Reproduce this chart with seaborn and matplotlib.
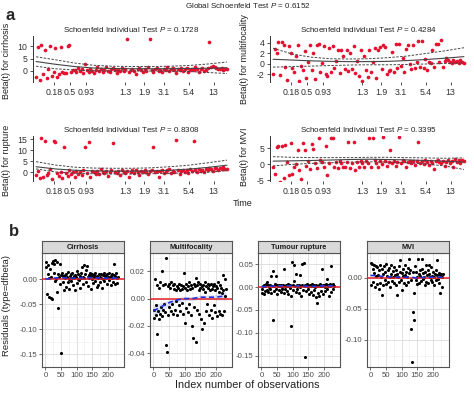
import numpy as np
import pandas as pd
import seaborn as sns
import matplotlib
matplotlib.use("Agg")
import matplotlib.pyplot as plt

sns.set_style("white")
plt.rcParams['font.family'] = ['Liberation Sans', 'DejaVu Sans']
plt.rcParams['mathtext.fontset'] = 'custom'
plt.rcParams['mathtext.it'] = 'Liberation Sans:italic'
plt.rcParams['mathtext.rm'] = 'Liberation Sans'

W, H = 474, 395

# ---------------- panel a : Schoenfeld residuals ----------------
# x axis = event order (fraction), labelled with the transformed time
time_ticks = [0.093, 0.177, 0.263, 0.466, 0.566, 0.67, 0.80, 0.93]
time_labels = ['0.18', '0.5', '0.93', '1.3', '1.9', '3.1', '5.4', '13']

beta_cirrhosis = [
    -2.5, 9.5, -3.5, 10.5, -1.0, 8.5, -2.8, 0.8, 10.0, -2.0,
    -0.5, 9.3, -2.3, -1.0, 9.6, -0.3, -0.8, -0.6, 10.2, 10.6,
    -0.2, 0.5, 0.3, -0.5, 1.2, 0.0, 0.8, -0.6, 2.8, 0.4,
    -0.2, 1.0, 0.2, -0.8, 0.6, 1.5, 0.0, 0.9, -0.4, 0.5,
    1.8, 0.1, -0.3, 0.7, 1.1, 0.3, -0.7, 0.6, 0.2, 1.4,
    0.0, 0.8, 12.7, -0.4, 0.5, 1.0, 0.2, -1.0, 0.7, 1.3,
    0.4, -0.2, 0.9, 0.1, 1.6, 12.8, 0.3, -0.5, 0.8, 1.2,
    0.2, 0.6, -0.3, 1.0, 0.4, 1.7, 0.0, 0.7, 1.1, 0.3,
    -0.6, 0.9, 0.5, 1.4, 0.1, 0.8, 1.2, -0.2, 0.6, 1.0,
    0.3, 1.5, 0.7, -0.4, 0.9, 1.3, 0.2, 0.6, 1.1, 11.7,
    1.6, 2.1, 1.8, 1.4, 1.0, 0.7, 1.3, 0.5, 1.0, 0.8]
beta_multifocality = [
    -2.0, 2.8, 2.0, 4.2, -2.1, 4.1, 3.6, -0.5, -3.0, 3.5,
    2.1, -0.8, -1.5, 1.5, 3.6, -3.2, -0.3, -1.2, 2.5, -2.6,
    0.3, 3.6, -1.2, 2.0, -2.8, 3.7, 3.9, -1.5, 0.2, 3.5,
    -2.0, -2.2, 3.0, -1.5, 3.5, -0.8, 0.5, 2.6, -1.8, 2.6,
    1.6, -1.0, 2.6, -1.4, 2.0, -0.9, 3.5, -1.7, 0.5, -2.2,
    2.7, -3.2, 1.5, -1.2, -2.4, 2.7, -1.5, 0.3, 3.0, -2.6,
    2.6, 3.2, -1.0, 3.6, 3.3, -2.0, -1.3, -1.2, 2.2, -1.5,
    3.8, -0.8, 3.8, -0.4, 1.2, -1.6, 2.8, 3.6, 0.0, -1.0,
    3.6, -0.7, 0.4, 4.4, -0.5, 4.3, -0.7, 0.9, -1.2, 0.3,
    0.1, 2.7, -0.6, 3.8, 3.9, 0.3, 4.5, -0.6, 0.5, 1.2,
    0.8, 0.4, 0.2, 0.7, 0.3, 0.5, 0.1, 0.8, 0.3, 0.2]
beta_rupture = [
    -1.5, 0.5, -2.8, 15.3, -2.5, 14.2, -1.2, -0.5, 1.5, -3.0,
    14.1, 13.8, -0.6, -1.8, 0.2, -2.6, 11.5, -0.3, -2.0, 0.8,
    -1.0, -0.2, -2.2, 0.4, -0.8, 0.0, -1.5, 1.0, 11.5, -0.4,
    13.8, -2.4, 0.6, -0.1, -1.0, 0.3, -0.7, 1.2, 0.0, -0.5,
    0.5, -2.0, -0.2, 0.8, 13.3, 0.1, -0.6, 0.4, -1.2, 0.9,
    0.2, -0.4, 0.6, -2.5, 0.0, 0.7, -0.3, 1.0, 0.2, -1.5,
    0.5, -0.2, 0.8, 0.1, -0.8, 0.4, 1.1, 11.2, -0.1, 0.6,
    -2.3, 0.3, 0.9, -0.5, 0.2, 0.7, 1.2, -0.3, 0.5, 0.0,
    14.5, 0.8, -1.0, 0.4, 1.0, 0.2, 0.7, -0.4, 1.3, 0.5,
    14.1, 0.9, 0.1, 1.5, 0.6, 1.1, -0.2, 1.4, 0.8, 1.8,
    1.2, 0.5, 1.6, 2.0, 1.0, 1.7, 1.3, 2.1, 1.5, 1.2]
beta_mvi = [
    -0.8, -3.0, 5.4, 5.5, -5.5, 5.6, -4.5, 5.9, 0.5, -3.5,
    6.5, -3.2, -1.0, 0.0, 4.5, -2.0, -4.8, 6.6, 4.4, -0.5,
    1.0, -1.5, 6.3, 4.8, 0.3, -1.2, 8.0, 1.2, 0.5, -1.0,
    5.5, -3.5, 0.3, 8.0, 8.0, -1.0, 0.5, -1.2, 1.1, 0.4,
    -0.8, -1.0, 0.6, 6.8, -1.2, 0.2, 6.8, -2.0, 0.5, -0.8,
    1.0, 0.2, -1.0, 0.8, 0.3, 8.2, -0.9, 8.2, 1.2, 0.4,
    -1.0, 0.8, 0.1, 8.3, 1.0, -0.7, 0.6, 4.5, 0.2, 1.1,
    -0.5, 0.7, 8.3, 0.3, 1.2, 0.9, -0.8, 0.5, 1.0, 0.2,
    0.8, -0.3, 1.1, 7.0, 0.4, 0.9, 0.1, 1.3, 0.6, -0.4,
    1.0, 0.3, -1.6, 0.8, 1.2, 0.5, 0.2, 1.0, -0.6, 0.7,
    1.3, 0.4, 0.9, -1.0, 1.5, 0.6, 1.2, 0.3, 1.4, 1.0]

# fitted beta(t) with confidence band, read at eleven positions
fit_pos = [0.0, 0.1, 0.2, 0.3, 0.4, 0.5, 0.6, 0.7, 0.8, 0.9, 1.0]
cirr_fit = [3.8, 2.7, 1.8, 1.2, 1.0, 0.9, 0.9, 0.9, 1.0, 1.1, 1.3]
cirr_up = [5.7, 4.5, 3.2, 2.3, 1.9, 1.8, 1.8, 1.9, 2.2, 2.8, 3.6]
cirr_lo = [1.9, 0.9, 0.4, 0.1, 0.0, 0.0, 0.0, -0.1, -0.2, -0.6, -1.0]
multi_fit = [0.9, 0.75, 0.6, 0.5, 0.45, 0.45, 0.5, 0.65, 0.85, 1.1, 1.4]
multi_up = [3.0, 1.9, 1.3, 1.0, 0.95, 1.0, 1.2, 1.5, 2.0, 2.5, 3.1]
multi_lo = [-0.6, -0.5, -0.4, -0.3, -0.2, -0.15, -0.15, -0.1, 0.0, 0.1, 0.2]
rupt_fit = [2.4, 1.4, 0.8, 0.5, 0.4, 0.4, 0.5, 0.8, 1.3, 2.1, 3.1]
rupt_up = [4.7, 3.2, 2.2, 1.8, 1.7, 1.7, 1.9, 2.4, 3.1, 4.2, 5.4]
rupt_lo = [1.4, 0.0, -0.5, -0.8, -0.9, -0.9, -0.8, -0.6, -0.4, -0.1, 0.6]
mvi_fit = [0.9, 1.0, 1.1, 1.25, 1.4, 1.5, 1.4, 1.3, 1.1, 0.9, 0.6]
mvi_up = [2.3, 2.1, 2.0, 2.0, 2.0, 2.1, 2.1, 2.0, 1.9, 1.8, 1.9]
mvi_lo = [-0.6, -0.1, 0.2, 0.4, 0.6, 0.7, 0.6, 0.4, 0.0, -0.6, -1.7]

# ---------------- panel b : dfbeta residuals ----------------
dfb_cirrhosis = [
    0.035, 0.025, -0.030, 0.010, 0.028, -0.035, 0.002, 0.020, -0.038, 0.005,
    0.033, -0.040, 0.036, 0.012, 0.030, -0.004, 0.038, 0.000, -0.025, 0.034,
    -0.057, 0.010, 0.004, -0.010, 0.031, 0.008, -0.148, 0.012, -0.005, 0.006,
    -0.022, 0.002, 0.008, -0.015, 0.011, 0.004, -0.006, 0.015, 0.001, -0.020,
    0.006, 0.010, -0.004, 0.003, 0.012, -0.012, 0.007, 0.002, -0.021, 0.009,
    0.004, 0.016, -0.008, 0.001, 0.010, -0.002, 0.006, -0.018, 0.012, 0.003,
    0.024, 0.005, -0.010, 0.028, 0.002, 0.011, -0.005, 0.019, 0.026, 0.004,
    -0.014, 0.008, 0.003, 0.012, -0.020, 0.006, 0.000, 0.010, -0.008, 0.004,
    0.009, -0.003, 0.013, 0.005, -0.016, 0.007, 0.002, -0.011, 0.010, 0.004,
    -0.006, 0.011, 0.003, -0.018, 0.008, 0.001, 0.012, -0.004, 0.006, 0.009,
    0.002, -0.009, 0.010, 0.005, -0.002, 0.013, 0.004, -0.012, 0.007, 0.011,
    0.003, -0.005, 0.009, 0.030, 0.006, -0.010, 0.012, 0.002, -0.007, 0.005]
dfb_multifocality = [
    -0.014, -0.008, 0.014, -0.012, -0.005, 0.010, -0.026, -0.009, 0.008, -0.015,
    -0.011, 0.012, -0.006, 0.020, -0.013, 0.010, -0.008, -0.004, 0.011, -0.010,
    -0.034, 0.030, -0.039, 0.009, -0.012, 0.011, -0.006, 0.008, -0.009, 0.012,
    -0.004, 0.010, -0.011, 0.007, 0.011, -0.008, 0.006, -0.002, 0.009, -0.012,
    0.008, -0.005, 0.011, -0.009, 0.006, 0.010, -0.003, 0.007, -0.011, 0.009,
    0.019, -0.018, 0.008, -0.007, 0.011, 0.006, -0.010, 0.009, -0.004, 0.012,
    0.007, -0.012, 0.010, -0.020, 0.008, -0.029, 0.011, -0.006, 0.009, 0.015,
    -0.032, 0.010, -0.008, 0.012, 0.006, -0.011, 0.008, 0.011, -0.015, 0.009,
    -0.022, 0.007, 0.010, -0.018, 0.012, 0.005, -0.009, 0.009, -0.004, 0.011,
    0.008, -0.012, 0.010, 0.006, -0.008, 0.011, -0.014, 0.007, 0.009, -0.005,
    0.011, -0.010, 0.006, 0.009, -0.013, 0.008, 0.012, -0.009, 0.005, 0.010,
    -0.011, 0.008, 0.004, -0.012, 0.017, 0.006, -0.009, 0.014, 0.002, 0.007]
dfb_rupture = [
    -0.012, -0.005, 0.003, -0.015, 0.004, -0.008, 0.002, 0.008, -0.006, 0.012,
    0.004, -0.010, 0.001, 0.005, -0.004, 0.025, -0.012, 0.002, 0.036, -0.072,
    0.003, -0.008, 0.006, -0.003, 0.024, 0.004, -0.014, 0.002, -0.006, 0.005,
    0.003, -0.010, 0.005, 0.001, -0.005, 0.004, -0.012, 0.041, 0.003, -0.004,
    0.005, -0.008, 0.002, 0.006, -0.015, 0.003, -0.002, 0.005, -0.020, -0.085,
    0.056, 0.004, -0.006, 0.049, 0.014, 0.002, -0.010, 0.030, 0.005, -0.004,
    0.003, -0.012, 0.005, 0.027, 0.001, -0.020, 0.004, 0.050, -0.006, 0.003,
    0.052, 0.005, -0.153, -0.008, 0.003, 0.006, -0.004, 0.002, -0.015, 0.005,
    0.004, -0.010, 0.002, 0.006, -0.018, 0.003, 0.005, -0.006, 0.001, -0.022,
    0.004, -0.034, 0.002, -0.012, 0.005, -0.020, 0.003, 0.006, -0.008, 0.002,
    0.040, 0.004, -0.014, 0.005, 0.001, -0.008, 0.006, 0.018, -0.005, 0.003,
    0.004, -0.020, 0.006, 0.002, -0.010, 0.047, 0.005, -0.003, 0.007, 0.002]
dfb_mvi = [
    0.024, -0.012, 0.022, 0.015, -0.006, 0.020, 0.008, -0.014, 0.019, 0.003,
    -0.010, 0.017, 0.005, -0.018, 0.012, 0.021, -0.008, 0.002, -0.028, 0.014,
    0.007, -0.012, 0.019, -0.004, 0.009, 0.022, -0.010, 0.003, 0.013, -0.007,
    0.016, 0.001, -0.015, 0.021, 0.006, -0.005, 0.011, 0.002, -0.009, 0.018,
    0.004, -0.012, 0.013, 0.007, -0.027, 0.002, 0.019, -0.006, 0.010, 0.029,
    -0.003, 0.008, -0.020, 0.014, 0.003, -0.008, 0.021, 0.005, -0.011, 0.009,
    0.002, 0.016, -0.006, 0.031, 0.008, 0.012, -0.004, -0.083, -0.135, -0.055,
    0.010, -0.025, -0.068, 0.019, -0.004, 0.009, 0.002, -0.010, 0.030, 0.006,
    -0.008, 0.012, 0.003, -0.005, 0.015, 0.030, -0.002, 0.008, 0.001, -0.012,
    0.010, 0.021, -0.006, 0.004, 0.013, -0.009, 0.006, 0.020, 0.002, -0.004,
    0.018, 0.003, -0.007, 0.009, 0.001, -0.011, 0.007, 0.012, -0.003, 0.005,
    0.028, -0.002, 0.008, -0.009, 0.004, -0.025, 0.006, 0.001, -0.014, 0.007]

smooth_idx = [0, 25, 50, 75, 100, 125, 150, 175, 200, 232]
cirr_smooth = [0.0, 0.002, 0.003, 0.002, 0.002, 0.003, 0.003, 0.002, 0.002, 0.002]
multi_smooth = [-0.009, -0.006, -0.003, -0.001, 0.0, 0.0, 0.001, 0.001, 0.001, 0.002]
multi_se = [0.004, 0.003, 0.002, 0.0015, 0.0015, 0.0015, 0.0015, 0.0015, 0.002, 0.003]
rupt_smooth = [0.001, 0.002, 0.003, 0.003, 0.003, 0.003, 0.002, 0.002, 0.003, 0.003]
mvi_smooth = [0.004, 0.003, 0.002, 0.001, 0.001, 0.001, 0.0, 0.001, 0.001, 0.001]

fig = plt.figure(figsize=(W / 100, H / 100), dpi=100)


def axes_px(x0, y0, x1, y1):
    return fig.add_axes([x0 / W, 1 - y1 / H, (x1 - x0) / W, (y1 - y0) / H])


def schoenfeld(box, beta, fit, up, lo, ylim, yticks, pval):
    ax = axes_px(*box)
    n = len(beta)
    sns.scatterplot(x=np.arange(n) / (n - 1), y=beta, ax=ax, color='#E5122F',
                    s=7, linewidth=0, zorder=3)
    sns.lineplot(x=fit_pos, y=fit, ax=ax, color='#444444', lw=0.8, zorder=4)
    for band in (up, lo):
        sns.lineplot(x=fit_pos, y=band, ax=ax, color='#444444', lw=0.7,
                     linestyle=(0, (2.5, 1.5)), zorder=4)
    ax.set_xlim(-0.016, 1.016)
    ax.set_ylim(*ylim)
    ax.set_xticks(time_ticks)
    ax.set_xticklabels(time_labels)
    ax.set_yticks(yticks)
    ax.set_yticklabels([str(t) for t in yticks])
    for s in ('top', 'right', 'bottom'):
        ax.spines[s].set_visible(False)
    ax.spines['left'].set_color('#333333')
    ax.spines['left'].set_linewidth(0.7)
    ax.tick_params(axis='both', labelsize=6.3, length=2.5, width=0.6, pad=1.5,
                   colors='#333333', left=True, bottom=True)
    ax.set_xlabel('')
    ax.set_ylabel('')
    ax.set_title(f'Schoenfeld Individual Test $\\it{{P}}$ = {pval}', fontsize=5.8,
                 pad=3, color='#222222')
    return ax


schoenfeld((33, 36, 230, 82), beta_cirrhosis, cirr_fit, cirr_up, cirr_lo,
           (-4.4, 14), [0, 5, 10], '0.1728')
schoenfeld((270, 36, 467, 82), beta_multifocality, multi_fit, multi_up, multi_lo,
           (-3.43, 5.33), [-2, 0, 2, 4], '0.4284')
schoenfeld((33, 136, 230, 181), beta_rupture, rupt_fit, rupt_up, rupt_lo,
           (-4.1, 16.4), [0, 5, 10, 15], '0.8308')
schoenfeld((270, 136, 467, 181), beta_mvi, mvi_fit, mvi_up, mvi_lo,
           (-5.3, 8.75), [-5, 0, 5], '0.3395')

fig.text(248 / W, 1 - 6 / H, 'Global Schoenfeld Test $\\it{P}$ = 0.6152',
         ha='center', va='center', fontsize=5.8, color='#222222')
fig.text(5 / W, 1 - 16 / H, 'a', fontsize=12, fontweight='bold', ha='left', va='center')
fig.text(9 / W, 1 - 231 / H, 'b', fontsize=12, fontweight='bold', ha='left', va='center')
for xx, yy, lab in [(7, 61, 'Beta(t) for cirrhosis'), (244, 59, 'Beta(t) for multifocality'),
                    (7, 160, 'Beta(t) for rupture'), (244, 157, 'Beta(t) for MVI')]:
    fig.text(xx / W, 1 - yy / H, lab, rotation=90, ha='center', va='center',
             fontsize=6.5, color='#222222')
fig.text(233 / W, 1 - 204 / H, 'Time', ha='left', va='center', fontsize=6.5,
         color='#222222')

# ---------------- panel b facets ----------------
obs_idx = np.linspace(1, 232, 120)


def facet(x0, x1, name, resid, smooth, ylim, yticks, ylabels, se=None):
    ax = axes_px(x0, 253, x1, 367)
    ax.set_facecolor('white')
    sns.scatterplot(x=obs_idx, y=resid, ax=ax, color='black', s=5,
                    linewidth=0, zorder=3)
    ax.axhline(0, color='#E8202A', lw=1.1, zorder=4)
    if se is not None:
        lo = np.array(smooth) - np.array(se)
        hi = np.array(smooth) + np.array(se)
        ax.fill_between(smooth_idx, lo, hi, color='#9DA8E8', alpha=0.35, lw=0, zorder=2)
    sns.lineplot(x=smooth_idx, y=smooth, ax=ax, color='#2233DD', lw=1.2,
                 linestyle=(0, (3, 2)), zorder=5)
    ax.set_xlim(-11, 252)
    ax.set_ylim(*ylim)
    ax.set_xticks([0, 50, 100, 150, 200])
    ax.set_xticks([25, 75, 125, 175, 225], minor=True)
    ax.set_yticks(yticks)
    ax.set_yticklabels(ylabels)
    step = yticks[1] - yticks[0]
    ax.set_yticks([t + step / 2 for t in yticks] + [yticks[0] - step / 2], minor=True)
    ax.grid(which='major', color='#DADADA', lw=0.6)
    ax.grid(which='minor', color='#EDEDED', lw=0.4)
    ax.set_axisbelow(True)
    for s in ax.spines.values():
        s.set_color('#555555')
        s.set_linewidth(0.8)
        s.set_visible(True)
    ax.tick_params(axis='both', which='major', labelsize=5.6, length=2, width=0.5,
                   pad=1.5, colors='#333333', labelcolor='#4D4D4D', left=True, bottom=True)
    ax.tick_params(which='minor', length=0)
    ax.set_xlabel('')
    ax.set_ylabel('')
    st = axes_px(x0, 241, x1, 253)
    st.set_facecolor('#D9D9D9')
    st.set_xticks([])
    st.set_yticks([])
    for s in st.spines.values():
        s.set_color('#555555')
        s.set_linewidth(0.8)
        s.set_visible(True)
    st.text(0.5, 0.45, name, ha='center', va='center', fontsize=5.3,
            fontweight='bold', color='#1A1A1A', transform=st.transAxes)


facet(42, 124, 'Cirrhosis', dfb_cirrhosis, cirr_smooth, (-0.159, 0.052),
      [-0.15, -0.10, -0.05, 0.0], ['-0.15', '-0.10', '-0.05', '0.00'])
facet(150, 232, 'Multifocality', dfb_multifocality, multi_smooth, (-0.0427, 0.0333),
      [-0.04, -0.02, 0.0, 0.02], ['-0.04', '-0.02', '0.00', '0.02'], se=multi_se)
facet(258, 340, 'Tumour rupture', dfb_rupture, rupt_smooth, (-0.164, 0.068),
      [-0.15, -0.10, -0.05, 0.0, 0.05], ['-0.15', '-0.10', '-0.05', '0.00', '0.05'])
facet(367, 449, 'MVI', dfb_mvi, mvi_smooth, (-0.1435, 0.040),
      [-0.10, -0.05, 0.0], ['-0.10', '-0.05', '0.00'])

fig.text(7 / W, 1 - 305 / H, 'Residuals (type=dfbeta)', rotation=90, ha='center',
         va='center', fontsize=6.8, color='#222222')
fig.text(247 / W, 1 - 385 / H, 'Index number of observations', ha='center',
         va='center', fontsize=7.8, color='#222222')

fig.savefig('out.png', dpi=100, facecolor='white')
